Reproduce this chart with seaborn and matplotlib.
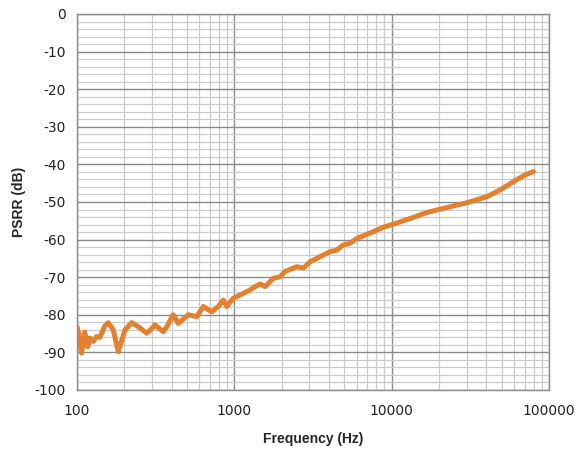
import matplotlib
matplotlib.use("Agg")
import matplotlib.pyplot as plt
import matplotlib.ticker as mticker
import numpy as np
import pandas as pd
import seaborn as sns

freq_hz = [100, 102, 107, 112, 117, 121, 127, 133, 140, 150, 158, 170, 183, 202, 223,
           252, 277, 300, 313, 354, 372, 409, 440, 510, 577, 635, 718, 791, 851, 895,
           985, 1141, 1259, 1321, 1457, 1567, 1770, 1952, 2101, 2493, 2746, 3029, 3341,
           3680, 4058, 4477, 4932, 5439, 6000, 6609, 7649, 8857, 10251, 11867, 13740,
           16720, 21320, 30030, 40240, 48890, 59390, 70480, 79600]
psrr_db = [-83.2, -84.5, -90.2, -84.6, -88.5, -86.2, -87.1, -85.8, -86.0, -83.0, -82.1,
           -84.0, -89.8, -84.0, -82.1, -83.5, -84.9, -83.6, -82.7, -84.5, -83.2, -80.0,
           -82.3, -80.0, -80.5, -77.8, -79.2, -77.8, -76.1, -77.8, -75.6, -74.3, -73.4,
           -72.8, -71.8, -72.5, -70.3, -69.9, -68.5, -67.2, -67.6, -65.9, -65.0, -64.1,
           -63.2, -62.8, -61.4, -61.0, -59.7, -59.0, -57.9, -56.7, -55.9, -55.0, -54.1,
           -52.8, -51.7, -50.2, -48.6, -46.8, -44.6, -42.8, -41.9]

df = pd.DataFrame({"Frequency (Hz)": freq_hz, "PSRR (dB)": psrr_db})

sns.set_style("white")
plt.rcParams["font.family"] = ["DejaVu Sans"]
plt.rcParams["axes.unicode_minus"] = False

fig = plt.figure(figsize=(5.77, 4.51), dpi=100)
ax = fig.add_axes([0.1334, 0.1353, 0.9515 - 0.1334, 0.969 - 0.1353])

sns.lineplot(data=df, x="Frequency (Hz)", y="PSRR (dB)", ax=ax,
             color="#E3812F", linewidth=3.6, solid_capstyle="round",
             solid_joinstyle="round")

ax.set_xscale("log")
ax.set_xlim(100, 100000)
ax.set_ylim(-100, 0)
ax.set_yticks(np.arange(-100, 1, 10))
ax.yaxis.set_minor_locator(mticker.MultipleLocator(2))
ax.xaxis.set_major_locator(mticker.FixedLocator([100, 1000, 10000, 100000]))
ax.xaxis.set_major_formatter(mticker.FuncFormatter(lambda v, p: f"{int(round(v))}"))
ax.xaxis.set_minor_locator(mticker.LogLocator(base=10, subs=np.arange(2, 10)))
ax.xaxis.set_minor_formatter(mticker.NullFormatter())

ax.grid(True, which="major", color="#8a8a8a", linewidth=1.0)
ax.grid(True, which="minor", color="#cccccc", linewidth=0.9)
ax.set_axisbelow(True)
for s in ax.spines.values():
    s.set_color("#8a8a8a")
    s.set_linewidth(1.0)

ax.tick_params(axis="both", which="both", length=0, labelsize=10, colors="#222222")
ax.tick_params(axis="x", pad=10)
ax.tick_params(axis="y", pad=8)

ax.set_xlabel("Frequency (Hz)", fontsize=10, fontweight="bold", labelpad=10,
              family=["Liberation Sans", "DejaVu Sans"])
ax.set_ylabel("PSRR (dB)", fontsize=10, fontweight="bold", labelpad=6,
              family=["Liberation Sans", "DejaVu Sans"])

fig.savefig("out.png", dpi=100)
